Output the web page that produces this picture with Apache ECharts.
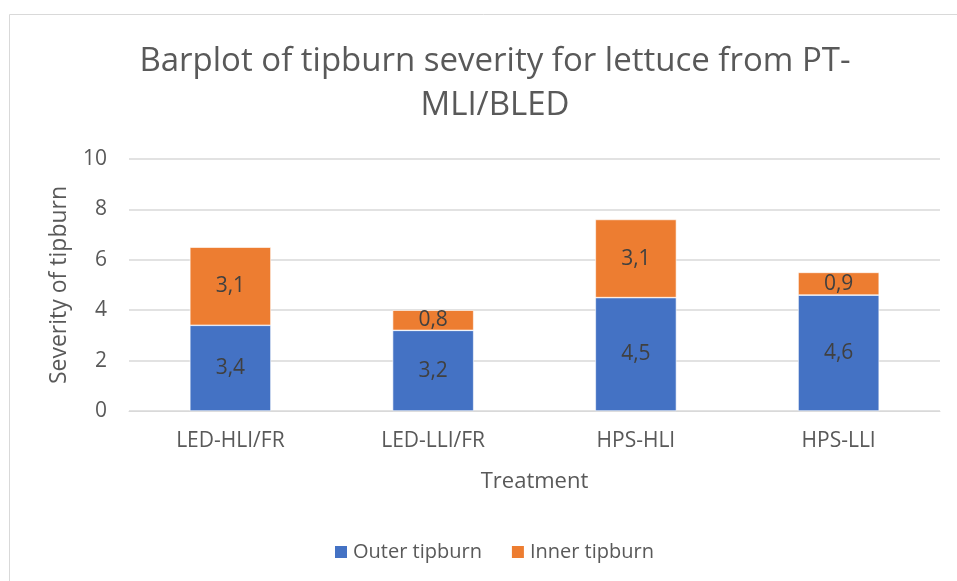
<!DOCTYPE html>
<html>
<head>
<meta charset="utf-8">
<script src="https://cdn.jsdelivr.net/npm/echarts@6/dist/echarts.min.js"></script>
<style>
  html, body { margin: 0; padding: 0; background: #fff; }
  #chart { width: 957px; height: 581px; }
</style>
</head>
<body>
<div id="chart"></div>
<script>
const categories = ['LED-HLI/FR', 'LED-LLI/FR', 'HPS-HLI', 'HPS-LLI']
const outerTipburn = [3.4, 3.2, 4.5, 4.6]
const innerTipburn = [3.1, 0.8, 3.1, 0.9]
const yTicks = [0, 2, 4, 6, 8, 10]

const FONT = '"Open Sans", "Liberation Sans", sans-serif'
const comma = p => String(p.value).replace('.', ',')

const chart = echarts.init(document.getElementById('chart'))
chart.setOption({
  animation: false,
  textStyle: { fontFamily: FONT },
  graphic: [{
    type: 'rect',
    shape: { x: 9.5, y: 14.5, width: 960, height: 600 },
    style: { fill: 'none', stroke: '#d9d9d9', lineWidth: 1 },
    silent: true
  }],
  title: {
    text: 'Barplot of tipburn severity for lettuce from PT-\nMLI/BLED',
    left: 490,
    top: 35,
    textAlign: 'center',
    textStyle: {
      fontFamily: FONT,
      fontSize: 33,
      fontWeight: 'normal',
      color: '#595959',
      lineHeight: 44
    }
  },
  legend: {
    data: ['Outer tipburn', 'Inner tipburn'],
    bottom: 14,
    left: 328,
    itemWidth: 14,
    itemHeight: 14,
    itemGap: 28,
    icon: 'rect',
    textStyle: { fontFamily: FONT, fontSize: 20, color: '#595959' }
  },
  grid: { left: 129, right: 17, top: 159, bottom: 170 },
  xAxis: {
    type: 'category',
    data: categories,
    name: 'Treatment',
    nameLocation: 'middle',
    nameGap: 60,
    nameTextStyle: { fontFamily: FONT, fontSize: 22, color: '#595959' },
    axisLine: { lineStyle: { color: '#d9d9d9' } },
    axisTick: { show: false },
    axisLabel: { fontFamily: FONT, fontSize: 21, color: '#595959', margin: 20 }
  },
  yAxis: {
    type: 'value',
    min: 0,
    max: 10,
    interval: 2,
    name: 'Severity of tipburn',
    nameLocation: 'middle',
    nameGap: 58,
    nameTextStyle: { fontFamily: FONT, fontSize: 23, color: '#595959' },
    axisLine: { show: false },
    axisTick: { show: false },
    axisLabel: {
      fontFamily: FONT, fontSize: 21, color: '#595959', margin: 22,
      formatter: v => yTicks.includes(v) ? String(v) : ''
    },
    splitLine: { lineStyle: { color: '#d9d9d9', width: 1.5 } }
  },
  series: [
    {
      name: 'Outer tipburn',
      type: 'bar',
      stack: 'total',
      barWidth: '40%',
      data: outerTipburn,
      itemStyle: { color: '#4472C4', borderColor: '#ffffff', borderWidth: 0.6 },
      label: { show: true, position: 'inside', formatter: comma, fontFamily: FONT, fontSize: 21, color: '#404040' }
    },
    {
      name: 'Inner tipburn',
      type: 'bar',
      stack: 'total',
      barWidth: '40%',
      data: innerTipburn,
      itemStyle: { color: '#ED7D31', borderColor: '#ffffff', borderWidth: 0.6 },
      label: { show: true, position: 'inside', formatter: comma, fontFamily: FONT, fontSize: 21, color: '#404040' }
    }
  ]
})
</script>
</body>
</html>
